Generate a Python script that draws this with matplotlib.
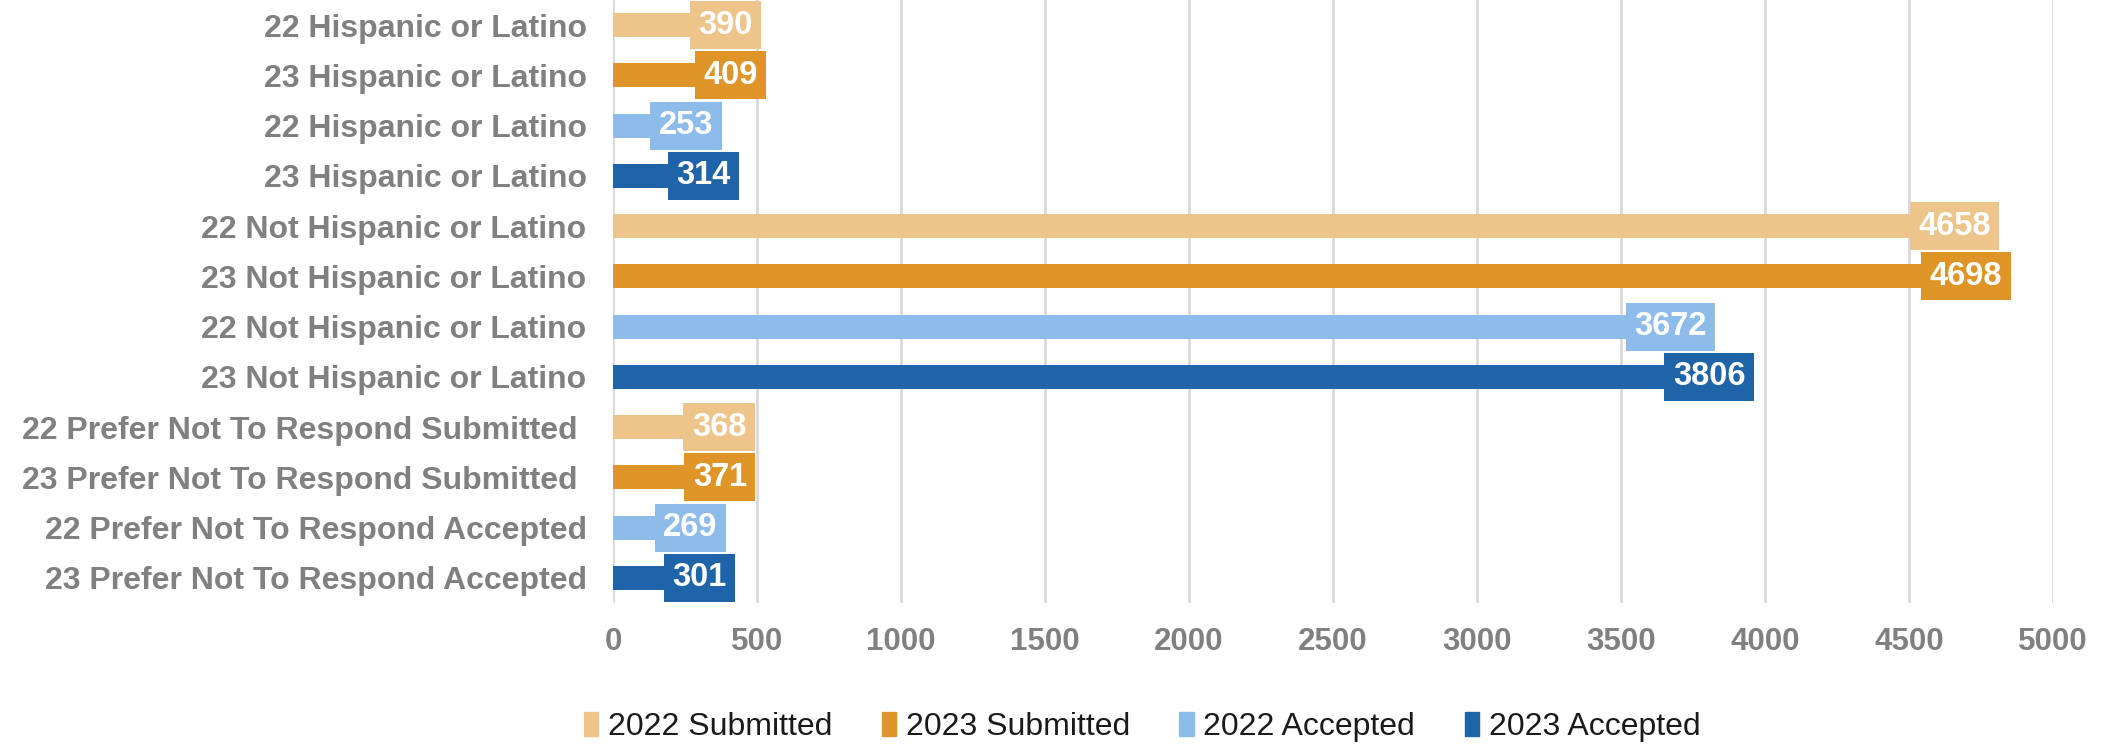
import matplotlib.pyplot as plt
import numpy as np

categories = [
    "22 Hispanic or Latino",
    "23 Hispanic or Latino",
    "22 Hispanic or Latino",
    "23 Hispanic or Latino",
    "22 Not Hispanic or Latino",
    "23 Not Hispanic or Latino",
    "22 Not Hispanic or Latino",
    "23 Not Hispanic or Latino",
    "22 Prefer Not To Respond Submitted ",
    "23 Prefer Not To Respond Submitted ",
    "22 Prefer Not To Respond Accepted",
    "23 Prefer Not To Respond Accepted",
]
values = [390, 409, 253, 314, 4658, 4698, 3672, 3806, 368, 371, 269, 301]
series = ["2022 Submitted", "2023 Submitted", "2022 Accepted", "2023 Accepted"]
colors = ["#EDC48A", "#DF9428", "#8DBCEB", "#1F63A8"]
xticks = [0, 500, 1000, 1500, 2000, 2500, 3000, 3500, 4000, 4500, 5000]

plt.rcParams['font.family'] = ['Liberation Sans', 'DejaVu Sans']
gray = "#808080"

fig = plt.figure(figsize=(21.06, 7.45), dpi=100)
ax = fig.add_axes([613 / 2106, 1 - 603 / 745, (2053 - 613) / 2106, 603 / 745])

y = np.arange(len(categories))
bar_colors = [colors[i % 4] for i in range(len(categories))]
ax.barh(y, values, height=0.48, color=bar_colors, zorder=2)

# value labels sit in a filled box over the end of each bar
for yi, v, c in zip(y, values, bar_colors):
    ax.text(v, yi, str(v), ha='center', va='center', color='white',
            fontsize=23.5, fontweight='bold', zorder=3,
            bbox=dict(boxstyle='square,pad=0.26', fc=c, ec='none'))

ax.set_ylim(len(categories) - 0.5, -0.5)
ax.set_xlim(0, 5000)
ax.set_yticks(y)
ax.set_yticklabels(categories, fontsize=23, fontweight='bold', color=gray)
ax.set_xticks(xticks)
ax.set_xticklabels([str(t) for t in xticks], fontsize=22.5, fontweight='bold', color=gray)
ax.tick_params(axis='both', length=0)
ax.tick_params(axis='y', pad=19)
ax.tick_params(axis='x', pad=17)
ax.xaxis.grid(True, color='#D9D9D9', linewidth=2, zorder=0)
ax.set_axisbelow(True)
for s in ax.spines.values():
    s.set_visible(False)

handles = [plt.Rectangle((0, 0), 1, 1, color=c) for c in colors]
fig.legend(handles, series, loc='center', bbox_to_anchor=(1142 / 2106, 1 - 727 / 745),
           ncol=4, frameon=False, fontsize=23, handlelength=0.45, handleheight=0.75,
           handletextpad=0.3, columnspacing=1.55, labelcolor='#1a1a1a')

fig.savefig('out.png', dpi=100)
